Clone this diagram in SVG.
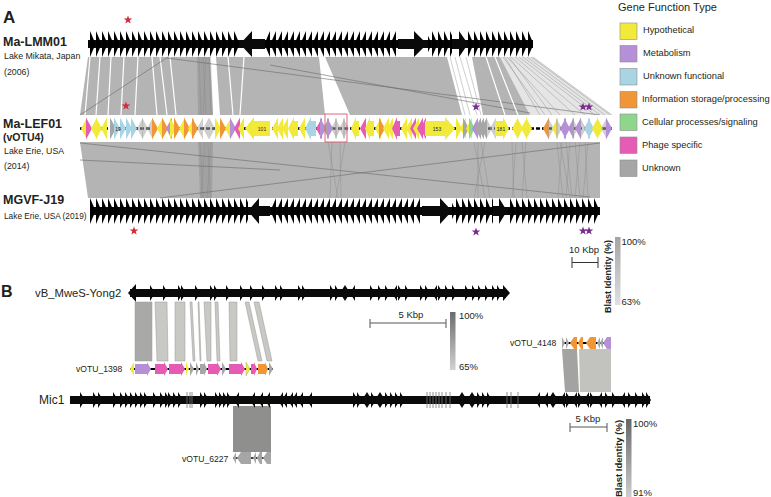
<svg xmlns="http://www.w3.org/2000/svg" xmlns:xlink="http://www.w3.org/1999/xlink" width="771" height="497" viewBox="0 0 771 497">
<defs>
<style>
text{font-family:"Liberation Sans",Arial,sans-serif;fill:#231f20}
.b{font-weight:bold}
.Y{fill:#f2ea3b}.P{fill:#b58fd8}.U{fill:#a8d4e4}.O{fill:#f19637}.G{fill:#8ed68b}.K{fill:#e65cb5}.N{fill:#a6a6a6}.D{fill:#111}
.f{opacity:.55}
.band{fill:#b4b4b4}
.ln{stroke:#6a6a6a;stroke-width:.6;fill:none}
.lg{stroke:#8a8a8a;stroke-width:.6;fill:none;opacity:.7}
.wl{stroke:#fff;stroke-width:1.2;fill:none}
.blk{fill:#0a0a0a}
.rs{fill:#d8283a}.ps{fill:#7b2d8f}
.lb{stroke:#8c8c8c;stroke-width:.6}
.sc{stroke:#333;stroke-width:1;fill:none}
.bb{stroke:#999;stroke-width:.5}
</style>
<path id="gR" d="M0,-11 L6,0 L0,11 Z"/>
<path id="gL" d="M6,-11 L0,0 L6,11 Z"/>
<path id="sR" d="M0,-8 L5,0 L0,8 Z"/>
<path id="sL" d="M5,-8 L0,0 L5,8 Z"/>
<path id="star" d="M0,-4.5 L1.1,-1.4 L4.3,-1.4 L1.7,0.5 L2.7,3.6 L0,1.7 L-2.7,3.6 L-1.7,0.5 L-4.3,-1.4 L-1.1,-1.4 Z"/>
<pattern id="sawR" width="6" height="26" patternUnits="userSpaceOnUse"><path d="M0,0 L5.6,13 L0,26 Z" fill="#000"/></pattern>
<pattern id="sawL" width="6" height="26" patternUnits="userSpaceOnUse"><path d="M6,0 L0.4,13 L6,26 Z" fill="#000"/></pattern>
<linearGradient id="gA" x1="0" y1="0" x2="0" y2="1"><stop offset="0" stop-color="#a4a4a4"/><stop offset="1" stop-color="#e0e0e0"/></linearGradient>
<linearGradient id="gB" x1="0" y1="0" x2="0" y2="1"><stop offset="0" stop-color="#6b6b6b"/><stop offset="1" stop-color="#d2d2d2"/></linearGradient>
<linearGradient id="gC" x1="0" y1="0" x2="0" y2="1"><stop offset="0" stop-color="#666"/><stop offset="1" stop-color="#cdcdcd"/></linearGradient>
</defs>
<rect width="771" height="497" fill="#fff"/>

<!-- Panel A labels -->
<g id="labelsA">
<text x="3" y="23" class="b" font-size="17">A</text>
<text x="3" y="46" class="b" font-size="12.5">Ma-LMM01</text>
<text x="4" y="59" font-size="8.8">Lake Mikata, Japan</text>
<text x="4" y="75" font-size="8.8">(2006)</text>
<text x="3" y="128" class="b" font-size="12.5">Ma-LEF01</text>
<text x="3" y="141" class="b" font-size="10.5">(vOTU4)</text>
<text x="4" y="154" font-size="8.8">Lake Erie, USA</text>
<text x="4" y="169" font-size="8.8">(2014)</text>
<text x="3" y="204" class="b" font-size="12.5">MGVF-J19</text>
<text x="4" y="219" font-size="8.3">Lake Erie, USA (2019)</text>
</g>

<!-- connectors: panel A comparison bands -->
<g id="connectors">
<g id="bandA1">
<polygon class="band" points="88,57 447,57 462,115 80,115"/>
<polygon class="band" points="472,57 500,57 530,115 483,115"/>
<polygon fill="#b4b4b4" opacity=".35" points="500,57 533,57 612,115 530,115"/>
<polygon fill="#fff" points="319,57 325,57 350,115 325,115"/>
<path class="wl" d="M90,57 L85,115 M100,57 L96,115 M111,57 L108,115 M124,57 L121,115 M138,57 L135,115 M152,57 L157,115 M160,57 L167,115 M170,57 L176,115 M228,57 L233,115 M244,57 L240,115"/>
<polygon fill="#fff" points="210,57 216,57 220,115 213,115"/>
<polygon fill="#777" opacity=".3" points="197,57 211,57 213,115 198,115"/>
<path class="lg" d="M199,57 L201,115 M203,57 L206,115 M206,57 L203,115 M209,57 L211,115"/>
<path class="ln" d="M80,115 L168,57 M167,58 L600,115 M270,65 L530,113"/>
<path class="lg" d="M450,57 L465,115 M455,57 L470,115 M460,57 L477,115 M466,57 L481,115 M503,57 L545,115 M507,57 L560,115 M511,57 L575,115 M515,57 L585,115 M519,57 L595,115 M523,57 L600,115 M527,57 L605,115 M531,57 L610,115 M533,57 L612,115 M505,57 L540,115 M509,57 L552,115"/>
<path class="wl" d="M486,57 L505,115 M495,57 L518,115"/>
</g>
<g id="bandA2">
<polygon class="band" points="80,142 600,142 600,198 88,198"/>
<polygon fill="#777" opacity=".3" points="198,142 213,142 212,198 200,198"/>
<path class="lg" d="M200,142 L203,198 M205,142 L201,198 M208,142 L210,198 M211,142 L207,198"/>
<path class="ln" d="M80,143 L590,197 M160,198 L600,143 M80,160 L280,170"/>
<path class="lg" d="M332,142 L330,198 M340,142 L341,198 M345,142 L336,198 M328,142 L338,198 M474,142 L485,198 M485,142 L474,198 M478,142 L478,198 M481,142 L490,198 M512,142 L514,198 M516,142 L512,198 M522,142 L527,198 M526,142 L522,198 M557,142 L563,198 M562,142 L558,198 M566,142 L572,198 M570,142 L566,198 M575,142 L580,198 M580,142 L575,198 M585,142 L588,198 M588,142 L583,198 M560,142 L570,198"/>
</g>
<g id="bandsB1">
<polygon fill="#a9a9a7" class="bb" points="135,302 152,302 152,361 135,361"/>
<polygon fill="#c8c8c4" class="bb" points="155,302 167,302 168,361 157,361"/>
<polygon fill="#c8c8c4" class="bb" points="175,302 185,302 185,361 175,361"/>
<polygon fill="#c8c8c4" class="bb" points="190,302 192,302 195,361 193,361"/>
<polygon fill="#c8c8c4" class="bb" points="198,302 199,302 201,361 200,361"/>
<polygon fill="#c8c8c4" class="bb" points="204,302 211,302 211,361 207,361"/>
<polygon fill="#c8c8c4" class="bb" points="215,302 218,302 220,361 217,361"/>
<polygon fill="#c8c8c4" class="bb" points="229,302 237,302 237,361 230,361"/>
<polygon fill="#c8c8c4" class="bb" points="245,302 249,302 262,361 258,361"/>
<polygon fill="#c8c8c4" class="bb" points="254,302 259,302 272,361 267,361"/>
</g>
<g id="bandsB2">
<polygon fill="#a3a3a1" points="562,349 577,349 579,392 565,392"/>
<polygon fill="#c2c2be" points="579,349 611,349 611,392 580,392"/>
<polygon fill="#8f8f8d" points="233,406 271,406 271,452 233,452"/>
</g>
</g>

<!-- Ma-LMM01 track -->
<g id="ma-lmm01" transform="translate(0,31)">
<rect x="88" y="9" width="445" height="8" class="blk"/>
<rect x="88" y="0" width="152" height="26" fill="url(#sawR)"/>
<polygon class="blk" points="240,13 252,0 252,8 265,8 265,18 252,18 252,26"/>
<rect x="265" y="0" width="133" height="26" fill="url(#sawL)"/>
<polygon class="blk" points="398,8 414,8 414,0 427,13 414,26 414,18 398,18"/>
<rect x="428" y="0" width="24" height="26" fill="url(#sawR)"/>
<polygon class="blk" points="452,8 459,8 459,0 468,13 459,26 459,18 452,18"/>
<rect x="468" y="0" width="65" height="26" fill="url(#sawR)"/>
</g>

<!-- Ma-LEF01 track -->
<g id="ma-lef01">
<rect x="80" y="115" width="532" height="27" fill="#fff"/>
<line x1="80" y1="128.5" x2="612" y2="128.5" stroke="#000" stroke-width="2.6" stroke-dasharray="4 2"/>
<use href="#gL" x="81" y="128.5" class="Y"/><use href="#gR" x="86" y="128.5" class="K"/><use href="#gL" x="91" y="128.5" class="Y"/><use href="#gR" x="96" y="128.5" class="Y"/><use href="#gL" x="101" y="128.5" class="Y"/>
<use href="#gR" x="110" y="128.5" class="N"/><use href="#gR" x="114" y="128.5" class="U"/><use href="#gR" x="120" y="128.5" class="U"/><use href="#gR" x="126" y="128.5" class="U"/><use href="#gR" x="131" y="128.5" class="U"/>
<use href="#gL" x="137" y="128.5" class="N f"/><use href="#gR" x="142" y="128.5" class="N f"/><use href="#gL" x="147" y="128.5" class="N f"/><use href="#gR" x="152" y="128.5" class="O"/><use href="#gL" x="157" y="128.5" class="Y"/>
<use href="#gR" x="162" y="128.5" class="O"/><use href="#gL" x="166" y="128.5" class="P"/><use href="#gR" x="170" y="128.5" class="Y"/><use href="#gR" x="174" y="128.5" class="O"/><use href="#gL" x="179" y="128.5" class="Y"/>
<use href="#gR" x="184" y="128.5" class="O"/><use href="#gL" x="188" y="128.5" class="Y"/><use href="#gR" x="192" y="128.5" class="O"/><use href="#gL" x="197" y="128.5" class="N f"/><use href="#gL" x="203" y="128.5" class="N f"/>
<use href="#gR" x="209" y="128.5" class="N f"/><use href="#gR" x="215" y="128.5" class="Y"/><use href="#gR" x="220" y="128.5" class="O"/><use href="#gL" x="225" y="128.5" class="Y"/><use href="#gR" x="230" y="128.5" class="P"/>
<use href="#gL" x="234" y="128.5" class="K"/><use href="#gL" x="238" y="128.5" class="Y"/>
<polygon class="Y" points="245,128.5 254,117 254,121 270,121 270,136 254,136 254,140"/>
<use href="#gL" x="272" y="128.5" class="Y"/><use href="#gL" x="277" y="128.5" class="Y"/><use href="#gL" x="282" y="128.5" class="Y"/>
<polygon class="Y" points="288,128.5 294,117 294,121 298,121 298,136 294,136 294,140"/>
<use href="#gL" x="299" y="128.5" class="Y"/>
<polygon class="U" points="305,128.5 311,117 311,121 316,121 316,136 311,136 311,140"/>
<use href="#gL" x="316" y="128.5" class="K"/><use href="#gR" x="320" y="128.5" class="P"/><use href="#gL" x="323" y="128.5" class="N"/><use href="#gR" x="327" y="128.5" class="P"/>
<use href="#gL" x="331" y="128.5" class="N f"/><use href="#gR" x="335" y="128.5" class="N f"/><use href="#gL" x="339" y="128.5" class="N f"/><use href="#gR" x="343" y="128.5" class="N f"/>
<polygon class="Y" points="351,128.5 356,117 356,121 359,121 359,136 356,136 356,140"/>
<use href="#gL" x="360" y="128.5" class="K"/>
<polygon class="Y" points="365,128.5 370,117 370,121 374,121 374,136 370,136 370,140"/>
<use href="#gL" x="375" y="128.5" class="Y"/><use href="#gR" x="379" y="128.5" class="O"/><use href="#gL" x="383" y="128.5" class="Y"/><use href="#gL" x="387" y="128.5" class="Y"/>
<polygon class="K" points="392,128.5 397,117 397,121 400,121 400,136 397,136 397,140"/>
<use href="#gL" x="401" y="128.5" class="Y"/><use href="#gL" x="406" y="128.5" class="Y"/><use href="#gL" x="410" y="128.5" class="K"/><use href="#gL" x="413" y="128.5" class="Y"/><use href="#gL" x="417" y="128.5" class="K"/><use href="#gL" x="420" y="128.5" class="K"/>
<polygon class="Y" points="425,121 445,121 445,117 455,128.5 445,140 445,136 425,136"/>
<use href="#gR" x="456" y="128.5" class="Y"/><use href="#gL" x="460" y="128.5" class="Y"/><use href="#gR" x="463" y="128.5" class="N"/><use href="#gL" x="466" y="128.5" class="Y"/><use href="#gR" x="469" y="128.5" class="G"/>
<use href="#gL" x="472" y="128.5" class="P"/><use href="#gL" x="475" y="128.5" class="N"/><use href="#gL" x="478" y="128.5" class="N"/><use href="#gL" x="481" y="128.5" class="N"/><use href="#gR" x="486" y="128.5" class="N f"/><use href="#gL" x="490" y="128.5" class="N f"/>
<polygon class="Y" points="495,121 503,121 503,117 509,128.5 503,140 503,136 495,136"/>
<use href="#gL" x="512" y="128.5" class="Y"/><use href="#gR" x="517" y="128.5" class="Y"/><use href="#gL" x="521" y="128.5" class="Y"/><use href="#gR" x="526" y="128.5" class="Y"/>
<use href="#gL" x="543" y="128.5" class="O"/><use href="#gR" x="548" y="128.5" class="N f"/><use href="#gL" x="552" y="128.5" class="Y"/><use href="#gR" x="556" y="128.5" class="N f"/>
<use href="#gL" x="560" y="128.5" class="P"/><use href="#gR" x="564" y="128.5" class="P"/><use href="#gL" x="568" y="128.5" class="P"/><use href="#gR" x="572" y="128.5" class="N f"/><use href="#gL" x="575" y="128.5" class="P"/>
<use href="#gR" x="580" y="128.5" class="N f"/><use href="#gL" x="584" y="128.5" class="U"/><use href="#gR" x="588" y="128.5" class="U"/><use href="#gL" x="592" y="128.5" class="Y"/><use href="#gR" x="597" y="128.5" class="Y"/>
<use href="#gL" x="601" y="128.5" class="N f"/><use href="#gR" x="606" y="128.5" class="P"/>
<text x="118" y="130.5" font-size="5" fill="#444" text-anchor="middle">19</text>
<text x="262" y="130.5" font-size="5" fill="#444" text-anchor="middle">101</text>
<text x="437" y="130.5" font-size="5" fill="#444" text-anchor="middle">153</text>
<text x="501" y="130.5" font-size="5" fill="#444" text-anchor="middle">181</text>
<rect x="325" y="114" width="22" height="28" fill="none" stroke="#e0566a" stroke-width=".9"/>
</g>

<!-- MGVF-J19 track -->
<g id="mgvf-j19" transform="translate(0,198)">
<rect x="90" y="9" width="510" height="8" class="blk"/>
<rect x="90" y="0" width="158" height="26" fill="url(#sawR)"/>
<polygon class="blk" points="248,13 259,0 259,8 270,8 270,18 259,18 259,26"/>
<rect x="270" y="0" width="152" height="26" fill="url(#sawL)"/>
<polygon class="blk" points="422,8 440,8 440,0 452,13 440,26 440,18 422,18"/>
<rect x="452" y="0" width="41" height="26" fill="url(#sawR)"/>
<polygon class="blk" points="493,8 499,8 499,0 507,13 499,26 499,18 493,18"/>
<rect x="508" y="0" width="92" height="26" fill="url(#sawR)"/>
</g>

<!-- stars -->
<g id="stars">
<use href="#star" x="128" y="20" class="rs"/>
<use href="#star" x="126" y="106" class="rs"/>
<use href="#star" x="134" y="231" class="rs"/>
<use href="#star" x="476" y="107" class="ps"/>
<use href="#star" x="583" y="107" class="ps"/>
<use href="#star" x="589" y="107" class="ps"/>
<use href="#star" x="476" y="232" class="ps"/>
<use href="#star" x="583" y="231" class="ps"/>
<use href="#star" x="589" y="231" class="ps"/>
</g>

<!-- legend -->
<g id="legend">
<text x="618" y="11" font-size="11">Gene Function Type</text>
<rect x="620" y="23" width="17" height="16.5" class="Y lb"/><text x="643" y="33" font-size="9.3">Hypothetical</text>
<rect x="620" y="45.5" width="17" height="16.5" class="P lb"/><text x="643" y="56" font-size="9.3">Metabolism</text>
<rect x="620" y="68.5" width="17" height="16.5" class="U lb"/><text x="643" y="79" font-size="9.3">Unknown functional</text>
<rect x="620" y="91.5" width="17" height="16.5" class="O lb"/><text x="642" y="102" font-size="9.3">Information storage/processing</text>
<rect x="620" y="114" width="17" height="16.5" class="G lb"/><text x="642" y="124.5" font-size="9.3">Cellular processes/signaling</text>
<rect x="620" y="137" width="17" height="16.5" class="K lb"/><text x="642" y="147.5" font-size="9.3">Phage specific</text>
<rect x="620" y="160" width="17" height="16.5" class="N lb"/><text x="642" y="171" font-size="9.3">Unknown</text>
</g>

<!-- scale A -->
<g id="scaleA">
<text x="584" y="253" font-size="9.5" text-anchor="middle">10 Kbp</text>
<path class="sc" d="M572,262.5 H598 M572,257 V268 M598,257 V268"/>
<rect x="615" y="237" width="5.5" height="68" fill="url(#gA)"/>
<text x="621.5" y="245" font-size="9.5">100%</text>
<text x="621.5" y="305" font-size="9.5">63%</text>
<text transform="translate(611,313) rotate(-90)" font-size="9" class="b">Blast Identity (%)</text>
</g>

<!-- Panel B -->
<g id="labelsB">
<text x="1" y="297" class="b" font-size="16">B</text>
<text x="35" y="297" font-size="11.3">vB_MweS-Yong2</text>
<text x="76" y="372" font-size="8.6">vOTU_1398</text>
<text x="510" y="346" font-size="8.6">vOTU_4148</text>
<text x="39" y="404" font-size="12">Mic1</text>
<text x="182" y="462" font-size="8.6">vOTU_6227</text>
</g>

<g id="yong2">
<rect x="130" y="289" width="375" height="8" class="blk"/>
<polygon class="blk" points="128,293 136,284 136,302"/>
<polygon class="blk" points="503,285 510,293 503,301"/>
<g class="blk">
<use href="#sR" x="150" y="293"/><use href="#sR" x="163" y="293"/><use href="#sR" x="178" y="293"/><use href="#sR" x="181" y="293"/><use href="#sR" x="195" y="293"/><use href="#sR" x="210" y="293"/><use href="#sR" x="214" y="293"/><use href="#sR" x="226" y="293"/><use href="#sR" x="240" y="293"/><use href="#sR" x="250" y="293"/><use href="#sR" x="262" y="293"/><use href="#sR" x="275" y="293"/><use href="#sR" x="280" y="293"/><use href="#sR" x="298" y="293"/><use href="#sR" x="302" y="293"/>
<use href="#sR" x="330" y="293"/><use href="#sR" x="335" y="293"/><use href="#sL" x="340" y="293"/><use href="#sR" x="345" y="293"/><use href="#sL" x="350" y="293"/><use href="#sR" x="370" y="293"/><use href="#sR" x="378" y="293"/><use href="#sR" x="385" y="293"/><use href="#sL" x="392" y="293"/><use href="#sR" x="398" y="293"/><use href="#sR" x="405" y="293"/>
<use href="#sR" x="420" y="293"/><use href="#sR" x="425" y="293"/><use href="#sL" x="432" y="293"/><use href="#sR" x="438" y="293"/><use href="#sR" x="445" y="293"/><use href="#sR" x="452" y="293"/><use href="#sR" x="465" y="293"/><use href="#sR" x="472" y="293"/><use href="#sR" x="478" y="293"/><use href="#sR" x="485" y="293"/><use href="#sR" x="492" y="293"/><use href="#sR" x="497" y="293"/>
</g>
</g>

<g id="votu1398">
<line x1="130" y1="369" x2="273" y2="369" stroke="#000" stroke-width="2"/>
<polygon class="Y" points="130,369 134,362 134,376"/>
<polygon class="P" points="135,364 147,364 147,362 151,369 147,376 147,374 135,374"/>
<polygon class="K" points="155,364 164,364 164,362 168,369 164,376 164,374 155,374"/>
<polygon class="K" points="169,364 181,364 181,362 185,369 181,376 181,374 169,374"/>
<polygon class="Y" points="186,362 189,369 186,376"/>
<polygon class="N" points="190,362 194,369 190,376"/>
<polygon class="N" points="196,362 199,369 196,376"/>
<polygon class="N" points="200,364 204,364 204,362 207,369 204,376 204,374 200,374"/>
<polygon class="K" points="208,364 217,364 217,362 221,369 217,376 217,374 208,374"/>
<polygon class="N" points="222,362 226,369 222,376"/>
<polygon class="K" points="229,364 241,364 241,362 245,369 241,376 241,374 229,374"/>
<polygon class="Y" points="246,362 250,369 246,376" stroke="#999" stroke-width=".4"/>
<polygon class="K" points="251,364 254,364 254,362 257,369 254,376 254,374 251,374"/>
<polygon class="O" points="258,364 265,364 265,362 268,369 265,376 265,374 258,374"/>
<polygon class="N" points="269,362 273,369 269,376"/>
</g>

<g id="votu4148">
<line x1="562" y1="343" x2="611" y2="343" stroke="#000" stroke-width="2"/>
<polygon class="N" points="562,337 565,343 562,349"/>
<polygon class="N" points="566,337 569,343 566,349"/>
<polygon class="O" points="570,343 574,337 577,337 577,349 574,349"/>
<polygon class="O" points="578,343 581,337 583,337 583,349 581,349"/>
<polygon class="O" points="586,343 590,337 596,337 596,349 590,349"/>
<polygon class="N" points="597,343 600,337 600,349"/>
<polygon class="N" points="600,343 603,337 603,349"/>
<polygon class="P" points="603,343 607,337 611,337 611,349 607,349"/>
</g>

<g id="mic1">
<rect x="70" y="396" width="580" height="8" class="blk"/>
<g class="blk">
<use href="#sR" x="80" y="400"/><use href="#sR" x="93" y="400"/><use href="#sR" x="98" y="400"/><use href="#sR" x="113" y="400"/><use href="#sR" x="120" y="400"/><use href="#sR" x="125" y="400"/><use href="#sR" x="130" y="400"/><use href="#sR" x="135" y="400"/><use href="#sR" x="140" y="400"/><use href="#sR" x="144" y="400"/><use href="#sR" x="153" y="400"/><use href="#sR" x="160" y="400"/><use href="#sR" x="165" y="400"/><use href="#sR" x="168" y="400"/><use href="#sR" x="173" y="400"/><use href="#sR" x="178" y="400"/>
<use href="#sR" x="200" y="400"/><use href="#sR" x="204" y="400"/><use href="#sR" x="215" y="400"/><use href="#sR" x="219" y="400"/><use href="#sR" x="223" y="400"/><use href="#sR" x="227" y="400"/>
<use href="#sL" x="234" y="400"/><use href="#sL" x="250" y="400"/><use href="#sL" x="258" y="400"/><use href="#sL" x="265" y="400"/><use href="#sL" x="278" y="400"/><use href="#sL" x="282" y="400"/><use href="#sL" x="288" y="400"/><use href="#sL" x="292" y="400"/><use href="#sL" x="298" y="400"/><use href="#sL" x="307" y="400"/>
<use href="#sR" x="353" y="400"/><use href="#sR" x="357" y="400"/><use href="#sL" x="362" y="400"/><use href="#sR" x="367" y="400"/><use href="#sR" x="371" y="400"/><use href="#sL" x="375" y="400"/><use href="#sR" x="380" y="400"/><use href="#sR" x="385" y="400"/><use href="#sR" x="390" y="400"/><use href="#sR" x="395" y="400"/><use href="#sR" x="400" y="400"/>
<use href="#sL" x="457" y="400"/><use href="#sR" x="462" y="400"/><use href="#sL" x="467" y="400"/><use href="#sR" x="472" y="400"/><use href="#sR" x="477" y="400"/><use href="#sR" x="482" y="400"/><use href="#sR" x="487" y="400"/>
<use href="#sL" x="535" y="400"/><use href="#sL" x="543" y="400"/><use href="#sL" x="548" y="400"/><use href="#sR" x="553" y="400"/><use href="#sL" x="560" y="400"/><use href="#sR" x="566" y="400"/><use href="#sL" x="572" y="400"/><use href="#sR" x="578" y="400"/><use href="#sL" x="584" y="400"/><use href="#sR" x="590" y="400"/><use href="#sL" x="597" y="400"/><use href="#sR" x="605" y="400"/><use href="#sR" x="612" y="400"/><use href="#sL" x="620" y="400"/><use href="#sR" x="628" y="400"/><use href="#sR" x="635" y="400"/><use href="#sR" x="642" y="400"/><use href="#sR" x="646" y="400"/>
</g>
<path d="M187,392 V408 M190,392 V408 M192,392 V408 M427,392 V408 M430,392 V408 M433,392 V408 M436,392 V408 M439,392 V408 M442,392 V408 M446,392 V408 M450,392 V408 M507,392 V408 M511,392 V408 M518,392 V408" stroke="#777" stroke-width=".8"/>
</g>

<g id="votu6227">
<line x1="233" y1="458" x2="271" y2="458" stroke="#000" stroke-width="1.5"/>
<polygon class="N" points="233,458 236,452 236,464"/>
<polygon class="N" points="237,458 241,452 251,452 251,464 241,464"/>
<polygon class="N" points="253,458 256,452 256,464"/>
<polygon class="N" points="257,458 260,452 262,452 262,464 260,464"/>
<polygon class="N" points="263,458 267,452 271,452 271,464 267,464"/>
</g>

<g id="scaleB1">
<text x="411" y="318" font-size="9.5" text-anchor="middle">5 Kbp</text>
<path d="M370,323 H446 M370,319 V328 M446,319 V328" stroke="#555" stroke-width="1" fill="none"/>
<rect x="450" y="312" width="5.5" height="58" fill="url(#gB)"/>
<text x="459" y="319" font-size="9.5">100%</text>
<text x="459" y="370" font-size="9.5">65%</text>
</g>

<g id="scaleB2">
<text x="588" y="422" font-size="9.5" text-anchor="middle">5 Kbp</text>
<path d="M570,427 H607 M570,423 V432 M607,423 V432" stroke="#555" stroke-width="1" fill="none"/>
<rect x="626" y="419" width="5.5" height="78" fill="url(#gC)"/>
<text x="633" y="427" font-size="9.5">100%</text>
<text x="633" y="496" font-size="9.5">91%</text>
<text transform="translate(622,497) rotate(-90)" font-size="9.5" class="b">Blast Identity (%)</text>
</g>
</svg>
